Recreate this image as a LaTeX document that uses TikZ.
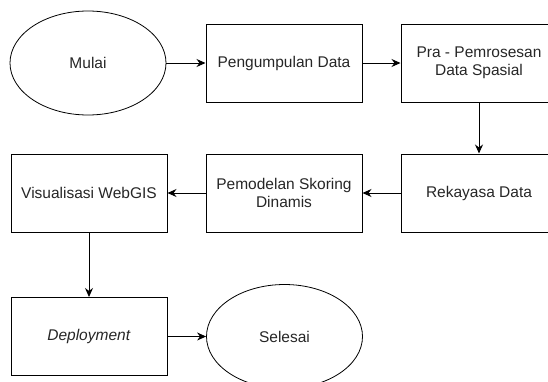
\documentclass[tikz,border=0pt]{standalone}
\usepackage{fontspec}
\setmainfont{Liberation Sans}
\usetikzlibrary{arrows.meta,shapes.geometric}

\begin{document}
\begin{tikzpicture}[>={Stealth[length=9pt,width=8pt]}, x=1pt, y=-1pt,
  every node/.style={font=\fontsize{15.5}{18}\selectfont, text=black!85, align=center},
  box/.style={draw, line width=1pt, minimum width=156pt, minimum height=78pt, inner sep=0pt},
  terminal/.style={draw, ellipse, line width=0.8pt, minimum width=156pt, minimum height=104pt, inner sep=0pt},
  link/.style={->, line width=1pt}]
  \useasboundingbox (0,0) rectangle (548,381);

  % first row
  \node[terminal] (mulai) at (88,63) {Mulai};
  \node[box] (kumpul) at (284,63) {Pengumpulan Data};
  \node[box] (prapros) at (479,63) {Pra - Pemrosesan\\Data Spasial};

  % second row
  \node[box] (rekayasa) at (479,193) {Rekayasa Data};
  \node[box] (skoring) at (284,193) {Pemodelan Skoring\\Dinamis};
  \node[box] (webgis) at (89,193) {Visualisasi WebGIS};

  % last row
  \node[box] (deploy) at (89,336.5) {\textit{Deployment}};
  \node[terminal] (selesai) at (284.5,336.5) {Selesai};

  \draw[link] (mulai) -- (kumpul);
  \draw[link] (kumpul) -- (prapros);
  \draw[link] (prapros) -- (rekayasa);
  \draw[link] (rekayasa) -- (skoring);
  \draw[link] (skoring) -- (webgis);
  \draw[link] (webgis) -- (deploy);
  \draw[link] (deploy) -- (selesai);
\end{tikzpicture}
\end{document}
